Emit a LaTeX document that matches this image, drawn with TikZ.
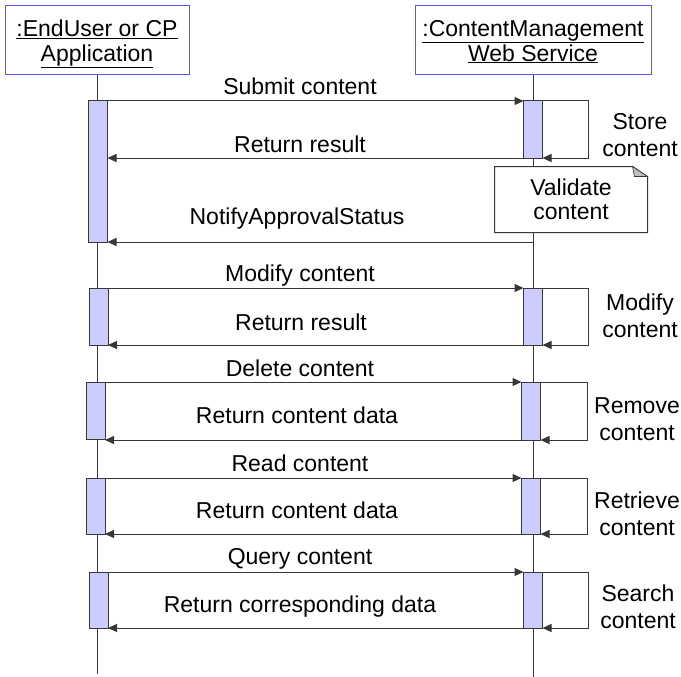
\documentclass[tikz,border=0pt]{standalone}
\usepackage{fontspec}
\setmainfont{Liberation Sans}
\usetikzlibrary{arrows.meta}

\definecolor{headblue}{RGB}{85,85,225}
\definecolor{actfill}{RGB}{204,204,255}
\definecolor{linegray}{RGB}{55,55,55}
\definecolor{foldgray}{RGB}{190,190,190}

\begin{document}
\begin{tikzpicture}[x=1pt,y=-1pt,line width=1pt,
    every node/.style={font=\fontsize{23}{27}\selectfont},
    head/.style={draw=headblue,fill=white,align=center,minimum width=#1,minimum height=69pt,inner sep=0pt,text depth=0pt,font=\fontsize{23}{25}\selectfont},
    act/.style={draw=linegray,fill=actfill,minimum width=19pt,minimum height=#1,inner sep=0pt,outer sep=0pt,anchor=north},
    life/.style={draw=linegray},
    msg/.style={draw=linegray,-{Triangle[length=9pt,width=8pt]}},
    lbl/.style={anchor=base,inner sep=0pt},
    side/.style={anchor=base,inner sep=0pt,align=center},
    note/.style={inner sep=0pt,minimum width=152pt,minimum height=65pt,align=center,font=\fontsize{23}{24}\selectfont}]

    \useasboundingbox (0,0) rectangle (681,677);

    %draw objects:
    \node[head=184pt] (user) at (97,40.5) {\underline{:EndUser or CP}\\\underline{Application}};
    \node[head=236pt] (cms) at (533,40.5) {\underline{:ContentManagement}\\\underline{Web Service}};

    %draw lifelines:
    \coordinate (userend) at (97,674);
    \coordinate (cmsend) at (533,677);
    \draw[life] (user) -- (userend);
    \draw[life] (cms) -- (cmsend);

    %activations:
    \node[act=141pt] (ua1) at (98,101) {};
    \node[act=57pt] (ca1) at (533,101) {};
    \node[act=57pt] (ua2) at (98.5,288) {};
    \node[act=57pt] (ca2) at (533,288) {};
    \node[act=57pt] (ua3) at (95.5,382) {};
    \node[act=58pt] (ca3) at (531,382) {};
    \node[act=56pt] (ua4) at (95.5,478) {};
    \node[act=56pt] (ca4) at (531,478) {};
    \node[act=56pt] (ua5) at (98.5,572) {};
    \node[act=56pt] (ca5) at (533,572) {};

    %submit:
    \draw[msg] (ua1.north east) -- (ca1.north west);
    \draw[msg] (ca1.south west) -- (ca1.south west -| ua1.east);
    \draw[msg] (ca1.north east) -- ++(46,0) |- (ca1.south east);
    \node[lbl] (m1) at (300,95) {Submit content};
    \node[lbl] (r1) at (300,153) {Return result};
    \node[side] (s1) at (640,157) {Store\\content};

    %note:
    \node[note] (val) at (571,199.5) {Validate\\content};
    \fill[white] (val.south west) -- (val.south east) -- ([yshift=-10pt]val.north east)
        -- ([xshift=-15pt]val.north east) -- (val.north west) -- cycle;
    \draw[linegray] (val.south west) -- (val.south east) -- ([yshift=-10pt]val.north east)
        -- ([xshift=-15pt]val.north east) -- (val.north west) -- cycle;
    \filldraw[draw=linegray,fill=foldgray,line width=.6pt] ([xshift=-15pt]val.north east)
        -- ([xshift=-13pt,yshift=-10pt]val.north east) -- ([yshift=-10pt]val.north east) -- cycle;
    \node[note] at (val) {Validate\\content};

    %notify:
    \draw[msg] (ua1.south east -| ca1) -- (ua1.south east);
    \node[lbl] (n1) at (297,224) {NotifyApprovalStatus};

    %modify:
    \draw[msg] (ua2.north east) -- (ca2.north west);
    \draw[msg] (ca2.south west) -- (ca2.south west -| ua2.east);
    \draw[msg] (ca2.north east) -- ++(46,0) |- (ca2.south east);
    \node[lbl] (m2) at (300,281) {Modify content};
    \node[lbl] (r2) at (301,330) {Return result};
    \node[side] (s2) at (640,337) {Modify\\content};

    %delete:
    \draw[msg] (ua3.north east) -- (ca3.north west);
    \draw[msg] (ca3.south west) -- (ca3.south west -| ua3.east);
    \draw[msg] (ca3.north east) -- ++(47,0) |- (ca3.south east);
    \node[lbl] (m3) at (300,376) {Delete content};
    \node[lbl] (r3) at (297,423) {Return content data};
    \node[side] (s3) at (637,440) {Remove\\content};

    %read:
    \draw[msg] (ua4.north east) -- (ca4.north west);
    \draw[msg] (ca4.south west) -- (ca4.south west -| ua4.east);
    \draw[msg] (ca4.north east) -- ++(47,0) |- (ca4.south east);
    \node[lbl] (m4) at (300,471) {Read content};
    \node[lbl] (r4) at (297,518) {Return content data};
    \node[side] (s4) at (637,535) {Retrieve\\content};

    %query:
    \draw[msg] (ua5.north east) -- (ca5.north west);
    \draw[msg] (ca5.south west) -- (ca5.south west -| ua5.east);
    \draw[msg] (ca5.north east) -- ++(46,0) |- (ca5.south east);
    \node[lbl] (m5) at (300,564) {Query content};
    \node[lbl] (r5) at (300,612) {Return corresponding data};
    \node[side] (s5) at (638,628) {Search\\content};

\end{tikzpicture}
\end{document}
